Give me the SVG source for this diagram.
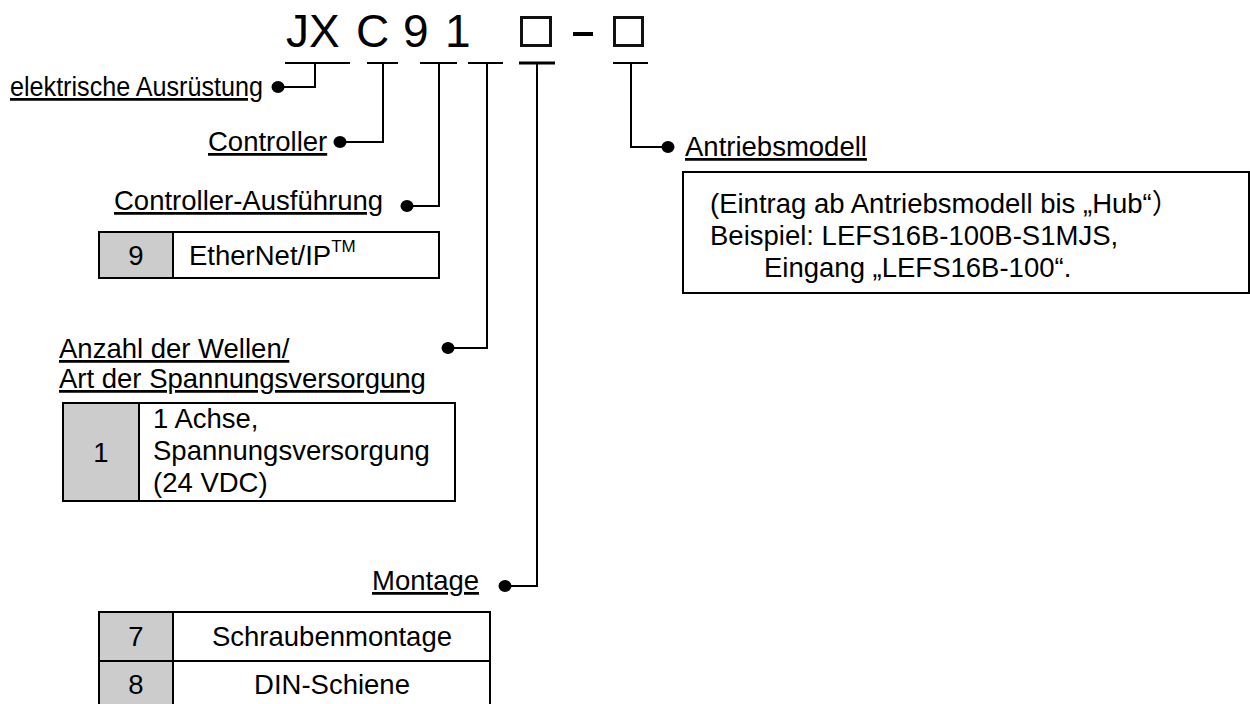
<svg xmlns="http://www.w3.org/2000/svg" width="1250" height="704" viewBox="0 0 1250 704">
<style>
text{font-family:"Liberation Sans",Arial,"Noto Sans CJK JP",sans-serif;fill:#000}
.lbl{font-size:27.5px;text-decoration:underline}
.t{font-size:27.5px}
.title{font-size:46px}
.ln{fill:none;stroke:#000;stroke-width:2}
.bar{stroke:#000;stroke-width:2}
.box{fill:#fff;stroke:#000;stroke-width:2}
.gray{fill:#cccccc;stroke:none}
.dot{fill:#000}
.sq{fill:none;stroke:#111;stroke-width:3}
</style>
<rect width="1250" height="704" fill="#fff"/>
<g id="title">
<text class="title" x="286" y="47">JX</text>
<text class="title" x="356" y="47">C</text>
<text class="title" x="403" y="47">9</text>
<text class="title" x="445" y="47">1</text>
<rect class="sq" x="521.5" y="17.5" width="29" height="28"/>
<rect x="573" y="32" width="20" height="4" fill="#000"/>
<rect class="sq" x="614.5" y="17.5" width="28" height="28"/>
<line class="bar" x1="285" y1="63" x2="350" y2="63"/>
<line class="bar" x1="367" y1="63" x2="398" y2="63"/>
<line class="bar" x1="420" y1="63" x2="457" y2="63"/>
<line class="bar" x1="468" y1="63" x2="503" y2="63"/>
<line class="bar" x1="519" y1="63" x2="555" y2="63" style="stroke-width:3"/>
<line class="bar" x1="613" y1="63" x2="648" y2="63"/>
</g>
<g id="connectors">
<polyline class="ln" points="278,87 315,87 315,63"/>
<polyline class="ln" points="340,142 383,142 383,63"/>
<polyline class="ln" points="407,206 439,206 439,63"/>
<polyline class="ln" points="448,348 487,348 487,63"/>
<polyline class="ln" points="505,586 537,586 537,63"/>
<polyline class="ln" points="668,147 631,147 631,63"/>
<ellipse class="dot" cx="278" cy="87" rx="6.5" ry="6"/>
<ellipse class="dot" cx="340" cy="142" rx="6.5" ry="6"/>
<ellipse class="dot" cx="407" cy="206" rx="6.5" ry="6"/>
<ellipse class="dot" cx="448" cy="348" rx="6.5" ry="6"/>
<ellipse class="dot" cx="505" cy="586" rx="6.5" ry="6"/>
<ellipse class="dot" cx="668" cy="147" rx="6.5" ry="6"/>
</g>
<g id="elektrische">
<text class="lbl" x="10" y="96" textLength="253" lengthAdjust="spacingAndGlyphs">elektrische Ausrüstung</text>
</g>
<g id="controller">
<text class="lbl" x="208" y="151">Controller</text>
</g>
<g id="ausfuehrung">
<text class="lbl" x="114" y="210">Controller-Ausführung</text>
<rect class="box" x="99" y="232" width="340" height="46"/>
<rect class="gray" x="100" y="233" width="73" height="44"/>
<line class="bar" x1="173" y1="232" x2="173" y2="278"/>
<text class="t" x="136" y="265" text-anchor="middle">9</text>
<text class="t" x="189" y="265">EtherNet/IP<tspan font-size="17" dy="-13">TM</tspan></text>
</g>
<g id="wellen">
<text class="lbl" x="59" y="358">Anzahl der Wellen/</text>
<text class="lbl" x="59" y="388">Art der Spannungsversorgung</text>
<rect class="box" x="63" y="403" width="392" height="98"/>
<rect class="gray" x="64" y="404" width="75" height="96"/>
<line class="bar" x1="139" y1="403" x2="139" y2="501"/>
<text class="t" x="101" y="462" text-anchor="middle">1</text>
<text class="t" x="153" y="428">1 Achse,</text>
<text class="t" x="153" y="460">Spannungsversorgung</text>
<text class="t" x="153" y="492">(24 VDC)</text>
</g>
<g id="montage">
<text class="lbl" x="372" y="590">Montage</text>
<rect class="box" x="99" y="612" width="391" height="100"/>
<rect class="gray" x="100" y="613" width="73" height="98"/>
<line class="bar" x1="173" y1="612" x2="173" y2="704"/>
<line class="bar" x1="99" y1="661" x2="490" y2="661"/>
<text class="t" x="136" y="646" text-anchor="middle">7</text>
<text class="t" x="332" y="646" text-anchor="middle">Schraubenmontage</text>
<text class="t" x="136" y="694" text-anchor="middle">8</text>
<text class="t" x="332" y="694" text-anchor="middle">DIN-Schiene</text>
</g>
<g id="antriebsmodell">
<text class="lbl" x="685" y="156">Antriebsmodell</text>
<rect class="box" x="683" y="172" width="566" height="121"/>
<text class="t" x="710" y="213">(Eintrag ab Antriebsmodell bis „Hub“）</text>
<text class="t" x="710" y="245">Beispiel: LEFS16B-100B-S1MJS,</text>
<text class="t" x="764" y="277">Eingang „LEFS16B-100“.</text>
</g>
</svg>
